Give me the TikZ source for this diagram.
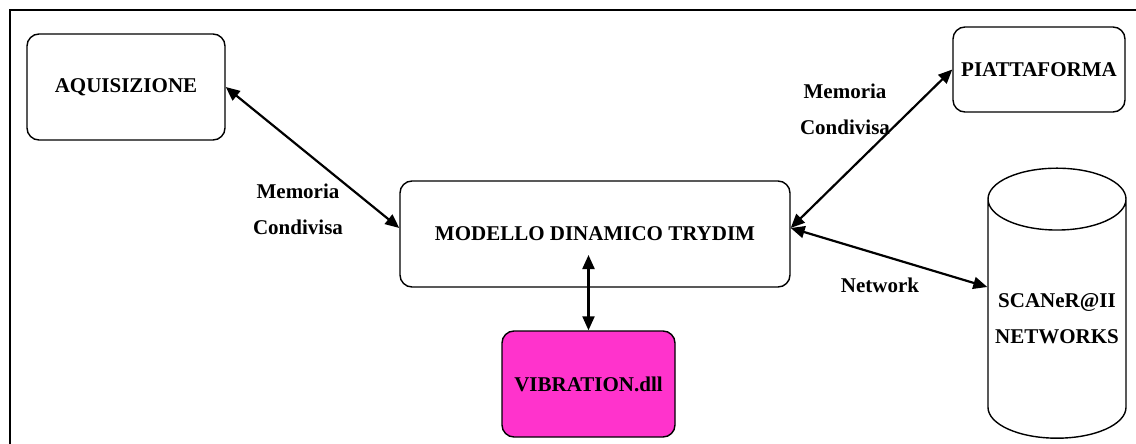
\documentclass[tikz,border=0pt]{standalone}
\usepackage{fontspec}
\setmainfont{Liberation Serif}
\usetikzlibrary{arrows.meta, shapes.geometric}

\definecolor{dllpink}{RGB}{255,51,204}

\tikzset{
  block/.style={draw, line width=1.4pt, rounded corners=12pt, align=center},
  link/.style={{Triangle[length=14pt,width=12pt]}-{Triangle[length=14pt,width=12pt]}, line width=2.2pt},
  tag/.style={align=center}
}

\begin{document}
\begin{tikzpicture}[x=1pt, y=-1pt, font=\fontsize{21}{36}\selectfont\bfseries]

\useasboundingbox (0,0) rectangle (1136,444);

% Outer frame (open to the right and bottom)
\draw[line width=1.6pt] (10,444) -- (10,10) -- (1136,10);

% Boxes
\node[block, minimum width=198pt, minimum height=106pt] (aquisizione) at (126,87) {AQUISIZIONE};
\node[block, minimum width=172pt, minimum height=85pt, inner sep=0pt] (piattaforma) at (1039,69.5) {PIATTAFORMA};
\node[block, minimum width=390pt, minimum height=106pt] (modello) at (595,234) {MODELLO DINAMICO TRYDIM};
\node[block, fill=dllpink, minimum width=173pt, minimum height=106pt] (vibration) at (588.5,384) {VIBRATION.dll};

% Database
\node[draw, cylinder, shape border rotate=90, aspect=0.5, line width=1.4pt,
      minimum width=138pt, minimum height=270pt, inner sep=0pt, align=center] (scaner) at (1057,319) {SCANeR@II\\NETWORKS};

% Connector labels
\node[tag] (memsx) at (298,209) {Memoria\\Condivisa};
\node[tag] (memdx) at (845,109) {Memoria\\Condivisa};
\node[tag] (net) at (880,285) {Network};

% Arrows
\coordinate (core) at (588.5,255);
\draw[link] (aquisizione.east) -- ([yshift=6pt]modello.west);
\draw[link] (piattaforma.west) -- ([yshift=6pt]modello.east);
\draw[link] ([yshift=6pt]modello.east) -- ([yshift=32pt]scaner.west);
\draw[link] (vibration.north) -- (core);

\end{tikzpicture}
\end{document}
